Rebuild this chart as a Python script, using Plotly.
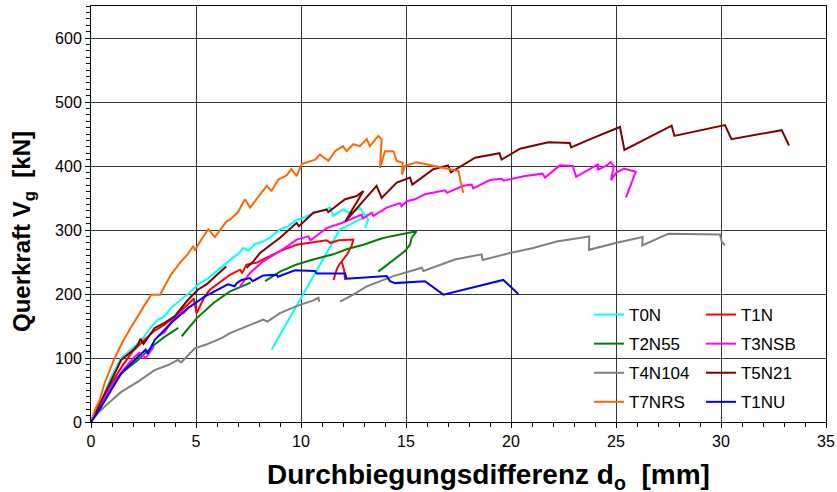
import plotly.graph_objects as go

# Durchbiegungsdifferenz d_o [mm] vs. Querkraft V_g [kN]; None marks a break in a curve
t0n_x = [0, 0.25, 0.5, 0.97, 1.44, 2.0, 2.24, 2.5, 2.87, 3.2, 3.5, 3.8, 4.1, 4.46, 4.8, 5.1, 5.41, 5.6,
         5.89, 6.2, 6.52, 6.8, 7.0, 7.25, 7.5, 7.8, 8.2, 8.6, 9.0, 9.4, 9.79, 10.2, 10.59, 11.0, 11.38,
         11.54, 12.0, 12.4, 12.8, 13.2, 13.05, None, 8.6, 11.86, 12.3, 12.65, 13.0, 13.2]
t0n_y = [0, 20, 34, 71, 100, 116, 123, 132, 149, 160, 165, 178, 186, 196, 205, 215, 222, 225,
         233, 242, 251, 258, 262, 272, 268, 278, 282, 290, 301, 306, 316, 320, 327, 330, 335,
         322, 332, 325, 335, 316, 303, None, 113, 301, 308, 314, 320, 325]

t1n_x = [0, 0.5, 1.0, 1.5, 2.0, 2.5, 3.0, 3.5, 4.0, 4.5, 4.9, 5.03, 5.41, 5.67, 6.2, 6.62, 7.1, 7.2,
         7.41, 7.89, 8.2, 9.0, 9.79, 10.43, 11.22, 11.4, 11.8, 12.49, 12.41, 12.2, 11.94, 11.8, 11.7,
         11.55, None, 11.94, 12.05, 12.1]
t1n_y = [0, 30, 62, 88, 111, 127, 142, 152, 165, 180, 193, 170, 196, 207, 220, 230, 238, 233,
         246, 249, 254, 267, 277, 280, 284, 280, 284, 285, 275, 262, 251, 245, 238,
         222, None, 250, 238, 222]

t2n55_x = [0, 0.49, 1.13, 1.7, 2.24, 2.6, 3.03, 3.5, 4.16, None, 4.32, 5.03, 5.83, 6.62, 7.41, 7.6,
           None, 8.29, 9.0, 9.79, 10.59, 11.54, 12.17, 12.97, 13.76, 14.24, 14.87, 15.5, 15.27, 15.19,
           14.95, 14.24, 13.68]
t2n55_y = [0, 29, 66, 83, 97, 108, 121, 133, 147, None, 134, 162, 186, 204, 215, 218,
           None, 220, 235, 246, 254, 262, 270, 277, 286, 290, 294, 298, 288, 277,
           267, 249, 235]

t3nsb_x = [0, 0.5, 1.0, 1.5, 2.08, 2.3, 2.6, 3.0, None, 3.19, 3.5, 3.83, 4.24, 4.4, 4.7, None,
           7.1, 7.57, 8.2, 9.0, 9.24, 9.79, 10.35, 10.45, 11.22, 11.94, 12.89, 12.95, 13.37, 13.45,
           14.08, 14.71, 14.79, 15.03, 15.43, 15.9, 16.86, 16.95, 17.73, 18.13, 18.2, 19.0, 19.55,
           19.65, 20.6, 21.5, 21.62, 22.33, 22.94, 23.1, 24.16, 24.13, 24.56, 24.75, 24.9, 24.76,
           25.03, 25.38, 25.94, 25.48]
t3nsb_y = [0, 30, 57, 80, 102, 108, 100, 118, None, 134, 140, 157, 173, 170, 181, None,
           212, 233, 251, 267, 272, 285, 290, 284, 303, 311, 324, 318, 327, 322,
           335, 342, 337, 345, 348, 356, 362, 358, 369, 371, 365, 378, 380,
           377, 384, 388, 382, 401, 400, 383, 403, 394, 401, 406, 400, 378,
           390, 396, 391, 351]

t4n104_x = [0, 0.33, 0.81, 1.44, 2.24, 3.03, 3.67, 4.14, 4.3, 4.94, 5.49, 6.21, 6.62, 7.0, 7.41, 8.2,
            8.4, 9.0, 9.79, 10.59, 10.83, 10.87, None, 11.86, 12.49, 13.13, 13.76, 14.4, 15.35, 15.75,
            15.83, 16.62, 17.33, 18.6, 18.65, 19.95, 21.06, 22.17, 23.73, 23.71, 25.03, 26.27, 26.25,
            27.49, 29.16, 29.95, 30.03, 30.19]
t4n104_y = [0, 14, 29, 47, 63, 81, 89, 97, 93, 115, 121, 131, 139, 144, 149, 160,
            157, 170, 181, 190, 194, 188, None, 188, 199, 212, 220, 228, 237, 241,
            236, 246, 254, 262, 253, 264, 272, 282, 290, 269, 280, 289, 276,
            294, 294, 293, 282, 276]

t5n21_x = [0, 0.49, 1.0, 1.44, 2.0, 2.24, 2.35, 2.5, 3.03, 3.5, 3.98, 4.3, 4.62, 5.1, 5.5, 6.0, 6.44,
           None, 7.41, 7.73, 8.05, 8.37, 9.0, 9.79, 9.9, 10.59, 11.22, 11.3, 12.1, 12.65, 12.97, 12.1,
           13.6, 13.84, 14.24, 14.56, 15.19, 15.3, 16.3, 17.0, 17.14, 17.4, 18.29, 19.45, 19.55, 20.43,
           21.78, 22.8, 22.86, 23.92, 25.19, 25.4, 27.65, 27.78, 30.19, 30.5, 32.89, 33.24]
t5n21_y = [0, 33, 65, 97, 112, 121, 130, 122, 147, 155, 165, 178, 191, 207, 215, 230, 243,
           None, 241, 251, 264, 272, 288, 311, 306, 327, 332, 328, 348, 353, 361, 313,
           369, 350, 363, 374, 382, 371, 395, 401, 390, 395, 413, 420, 410, 427,
           437, 436, 429, 444, 461, 425, 463, 447, 464, 442, 456, 432]

t7nrs_x = [0, 0.2, 0.41, 0.65, 1.13, 1.5, 1.92, 2.3, 2.56, 2.87, 3.29, 3.8, 4.24, 4.6, 4.87, 4.95, 5.3,
           5.59, 5.9, 6.46, 6.62, 7.0, 7.33, 7.57, 8.05, 8.37, 8.6, 8.92, 9.3, 9.55, 9.79, 10.03, 10.67,
           10.9, 11.3, 11.62, 12.0, 12.17, 12.49, 12.8, 13.13, 13.28, 13.68, 13.84, 13.76, 14.0, 14.4,
           14.56, 14.84, 14.81, 14.95, 15.5, 17.1, 17.5, 17.6, 17.73]
t7nrs_y = [0, 20, 34, 61, 100, 125, 149, 168, 183, 199, 199, 230, 249, 262, 275, 268, 288,
           301, 289, 314, 316, 328, 348, 335, 356, 369, 361, 379, 385, 395, 384, 403, 410,
           418, 408, 423, 431, 423, 434, 431, 442, 431, 447, 442, 397, 423, 423,
           408, 405, 387, 400, 406, 395, 392, 376, 358]

t1nu_x = [0, 0.49, 1.0, 1.44, 2.24, 2.6, 2.7, 3.03, 3.83, 4.62, 5.41, 6.2, 6.52, 6.84, 6.94, 7.17, 7.57,
          7.7, 8.2, 8.84, 8.9, 9.71, 10.67, 10.75, 12.1, 12.17, 14.08, 14.24, 14.48, 15.9, 16.78, 19.63,
          20.35]
t1nu_y = [0, 24, 52, 76, 102, 113, 107, 128, 155, 178, 196, 209, 215, 212, 217, 222, 225,
          220, 229, 230, 227, 237, 236, 232, 232, 224, 228, 220, 217, 220, 199, 222,
          200]

series = [
    ("T0N", t0n_x, t0n_y, "#00FFFF", "legend"),
    ("T1N", t1n_x, t1n_y, "#FF0000", "legend2"),
    ("T2N55", t2n55_x, t2n55_y, "#008000", "legend"),
    ("T3NSB", t3nsb_x, t3nsb_y, "#FF00FF", "legend2"),
    ("T4N104", t4n104_x, t4n104_y, "#808080", "legend"),
    ("T5N21", t5n21_x, t5n21_y, "#800000", "legend2"),
    ("T7NRS", t7nrs_x, t7nrs_y, "#FF6600", "legend"),
    ("T1NU", t1nu_x, t1nu_y, "#0000FF", "legend2"),
]

x_ticks = [0, 5, 10, 15, 20, 25, 30, 35]
y_ticks = [0, 100, 200, 300, 400, 500, 600]

FONT = "Liberation Sans, Arial, sans-serif"

fig = go.Figure()
for name, xs, ys, color, leg in series:
    fig.add_trace(go.Scatter(
        x=xs, y=ys, name=name, mode="lines",
        line=dict(color=color, width=2),
        connectgaps=False, legend=leg, legendgroup=name,
    ))

grid = "#333333"
fig.update_xaxes(
    range=[0, 35], tickvals=x_ticks, ticktext=[str(v) for v in x_ticks],
    showgrid=True, gridcolor=grid, gridwidth=1,
    showline=True, linecolor="black", linewidth=1, mirror=True,
    ticks="outside", ticklen=5, tickcolor="black",
    minor=dict(dtick=1, ticks="outside", ticklen=4, tickcolor="black", showgrid=False),
    tickfont=dict(family=FONT, size=16, color="black"),
    zeroline=False,
)
fig.update_yaxes(
    range=[0, 650], tickvals=y_ticks, ticktext=[str(v) for v in y_ticks],
    showgrid=True, gridcolor=grid, gridwidth=1,
    showline=True, linecolor="black", linewidth=1, mirror=True,
    ticks="outside", ticklen=5, tickcolor="black",
    minor=dict(dtick=10, ticks="outside", ticklen=4, tickcolor="black", showgrid=False),
    tickfont=dict(family=FONT, size=16, color="black"),
    zeroline=False,
)

# axis titles
fig.add_annotation(
    text="<b>Durchbiegungsdifferenz d<sub>o</sub>  [mm]</b>",
    xref="paper", yref="paper", x=0.5408, y=-0.1315,
    xanchor="center", yanchor="middle", showarrow=False,
    font=dict(family=FONT, size=28, color="black"),
)
fig.add_annotation(
    text="<b>Querkraft V<sub>g</sub>  [kN]</b>",
    xref="paper", yref="paper", x=-0.0925, y=0.4567,
    xanchor="center", yanchor="middle", showarrow=False, textangle=-90,
    font=dict(family=FONT, size=24, color="black"),
)

# white panel behind the two legend columns, covering the grid
fig.add_shape(type="rect", xref="paper", yref="paper",
              x0=0.6816, x1=0.9864, y0=0.0168, y1=0.3005,
              fillcolor="white", line=dict(width=0), layer="between")

leg_common = dict(
    bgcolor="rgba(0,0,0,0)", borderwidth=0, xanchor="left", yanchor="top",
    font=dict(family=FONT, size=17, color="black"), tracegroupgap=4,
    orientation="v",
)
fig.update_layout(
    width=837, height=492,
    margin=dict(l=91, r=11, t=6, b=70, autoexpand=False),
    paper_bgcolor="white", plot_bgcolor="white",
    showlegend=True,
    legend=dict(x=0.6776, y=0.3005, **leg_common),
    legend2=dict(x=0.8299, y=0.3005, **leg_common),
)

fig.write_html("out.html")
